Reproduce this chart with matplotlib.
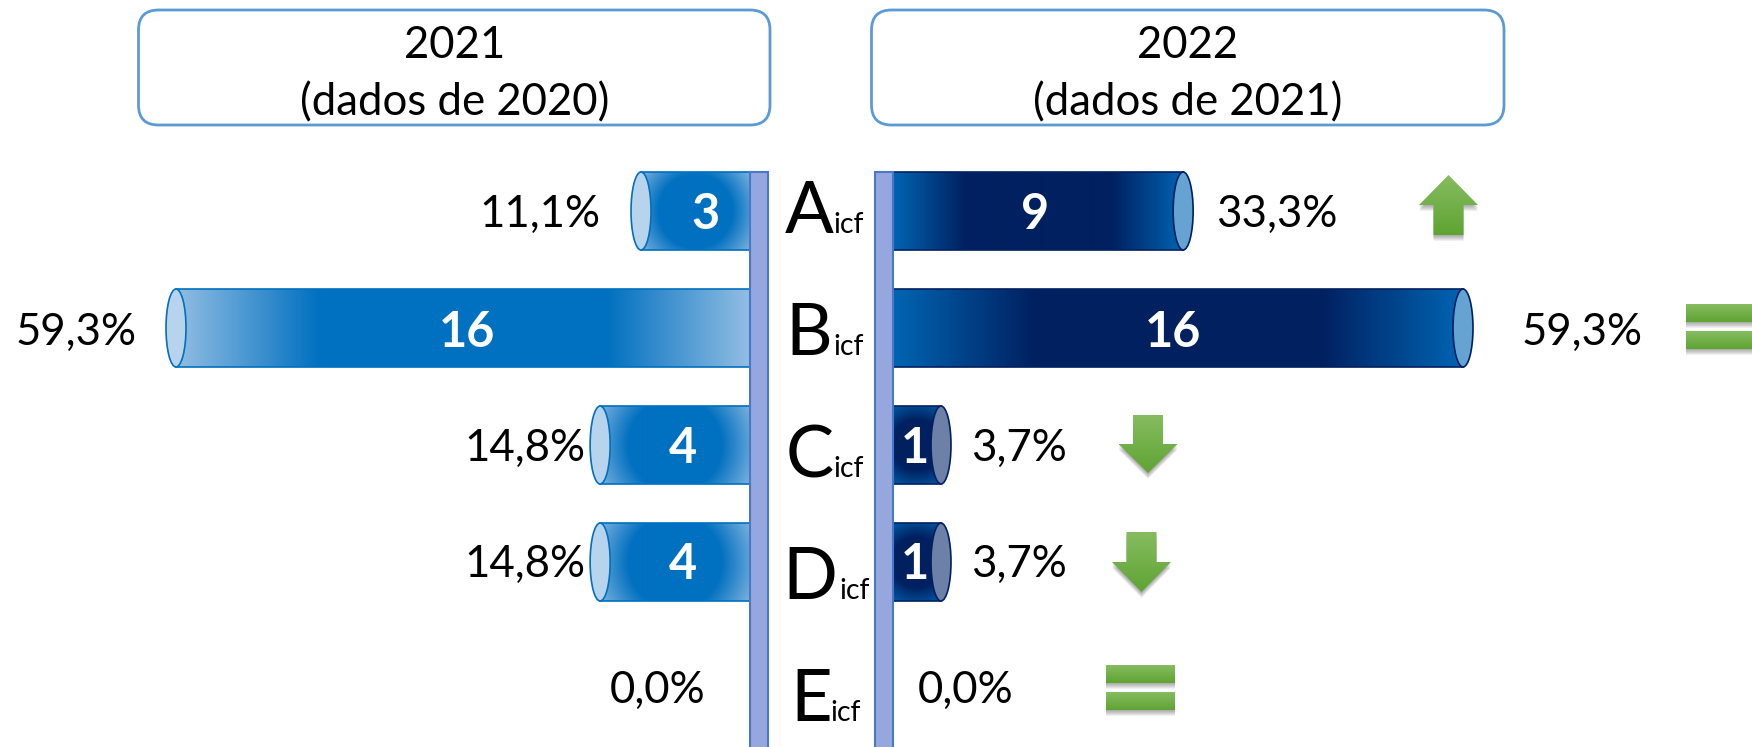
import numpy as np
import matplotlib
matplotlib.use("Agg")
import matplotlib.pyplot as plt
from matplotlib.patches import Ellipse, FancyBboxPatch, Polygon, Rectangle

# ---- data ----
categories = ["A", "B", "C", "D", "E"]
counts_2021 = [3, 16, 4, 4, 0]
counts_2022 = [9, 16, 1, 1, 0]
pct_2021 = [11.1, 59.3, 14.8, 14.8, 0.0]
pct_2022 = [33.3, 59.3, 3.7, 3.7, 0.0]
# the bars in the source are hand-drawn shapes: their drawn length, in counts
drawn_2021 = [3.26, 16.0, 4.38, 4.38, 0.0]
drawn_2022 = [8.28, 16.0, 1.6, 1.6, 0.0]
trend = ["up", "equal", "down", "down", "equal"]
headers = [("2021", "(dados de 2020)"), ("2022", "(dados de 2021)")]

# ---- layout (pixels) ----
W, H = 1752, 747
LEFT_BASE, RIGHT_BASE = 750, 893
LEFT_SCALE, RIGHT_SCALE = 36.5, 36.25
ROW0, ROW_STEP, BAR_PX, CAP_PX = 211, 117, 78, 20
pct_base = [227, 345, 461, 577, 703]
val_base = [229, 347, 463, 579]
pct_x_l = [540, 76, 525, 525, 658]
pct_x_r = [1277, 1582, 1019, 1019, 966]
val_x_l = [705, 467, 683, 683]
val_x_r = [1035, 1173, 915, 915]
letter_x = [785, 785, 786, 782, 790]
icf_x = [833, 833, 833, 839, 830]
letter_base = [233, 355, 477, 599, 721]
FONT = "Lato"
plt.rcParams["font.family"] = [FONT, "DejaVu Sans"]


def hex_rgb(c):
    return np.array(matplotlib.colors.to_rgb(c))


def gradient(lpx, hpx, kind, end, mid):
    nx, ny = max(int(lpx), 2), max(int(hpx), 2)
    u = (np.arange(nx) + .5) / nx
    v = (np.arange(ny) + .5) / ny
    uu, vv = np.meshgrid(u, v)
    if kind == "linear":
        t = np.clip(np.minimum(uu, 1 - uu) / .25, 0, 1)
    else:
        d = np.hypot((uu - .5) * lpx, (vv - .5) * hpx) / np.hypot(lpx / 2, hpx / 2)
        t = np.clip((1.08 - d) / (1.08 - .55), 0, 1)
    e, m = hex_rgb(end), hex_rgb(mid)
    return e + (m - e) * t[..., None]


fig = plt.figure(figsize=(W / 100, H / 100), dpi=100, facecolor="white")
ylim = ((H - ROW0) / ROW_STEP, -ROW0 / ROW_STEP)
ax_l = fig.add_axes([0, 0, LEFT_BASE / W, 1])
ax_l.set_xlim(LEFT_BASE / LEFT_SCALE, 0)
ax_r = fig.add_axes([RIGHT_BASE / W, 0, (W - RIGHT_BASE) / W, 1])
ax_r.set_xlim(0, (W - RIGHT_BASE) / RIGHT_SCALE)
bar_h = BAR_PX / ROW_STEP


def draw_bars(ax, drawn, scale, end, mid, edge, cap_face, short_cap):
    xlim = ax.get_xlim()
    cap_w = CAP_PX / scale
    for i, L in enumerate(drawn):
        if L <= 0:
            continue
        body = L - cap_w / 2
        kind = "linear" if body * scale > 250 else "radial"
        img = gradient(body * scale, BAR_PX, kind, end, mid)
        ax.imshow(img, extent=(0, body, i + bar_h / 2, i - bar_h / 2),
                  origin="upper", aspect="auto", zorder=1, interpolation="bilinear")
        for yy in (i - bar_h / 2, i + bar_h / 2):
            ax.plot([0, body], [yy, yy], color=edge, lw=1.2, zorder=2)
        face = short_cap if body * scale < 60 else cap_face
        ax.add_patch(Ellipse((body, i), cap_w, bar_h, facecolor=face, edgecolor=edge,
                             lw=1.2, zorder=3))
    ax.set_xlim(xlim)
    ax.set_ylim(ylim)
    ax.axis("off")


draw_bars(ax_l, drawn_2021, LEFT_SCALE, "#93BEE3", "#0070C0", "#0070C0", "#B8D4EC", "#B8D4EC")
draw_bars(ax_r, drawn_2022, RIGHT_SCALE, "#0065B3", "#002060", "#002060", "#66A3D2", "#6C80A8")

# overlay in pixel coordinates for the infographic furniture
ov = fig.add_axes([0, 0, 1, 1], zorder=5)
ov.set_xlim(0, W)
ov.set_ylim(H, 0)
ov.axis("off")
ov.patch.set_alpha(0)

for px in (LEFT_BASE, RIGHT_BASE - 18):
    ov.add_patch(Rectangle((px, 172), 18, H - 172 + 2, facecolor="#95A7DC",
                           edgecolor="#4A78C8", lw=1.5, zorder=4))

for (x0, x1), (l1, l2) in zip([(138.5, 770), (871.5, 1504)], headers):
    r = 20
    ov.add_patch(FancyBboxPatch((x0 + r, 10 + r), x1 - x0 - 2 * r, 115 - 2 * r,
                                boxstyle=f"round,pad={r},rounding_size={r}",
                                facecolor="white", edgecolor="#5B9BD5", lw=2))
    cx = (x0 + x1) / 2
    ov.text(cx, 58, l1, ha="center", va="baseline", fontsize=31.5, color="black")
    ov.text(cx, 115, l2, ha="center", va="baseline", fontsize=31.5, color="black")


def pct(v):
    return f"{v:.1f}%".replace(".", ",")


for i, cat in enumerate(categories):
    ov.text(pct_x_l[i], pct_base[i], pct(pct_2021[i]), ha="center", va="baseline",
            fontsize=31.5, color="black")
    ov.text(pct_x_r[i], pct_base[i], pct(pct_2022[i]), ha="center", va="baseline",
            fontsize=31.5, color="black")
    ov.text(letter_x[i], letter_base[i], cat, ha="left", va="baseline", fontsize=52, color="black")
    ov.text(icf_x[i], letter_base[i], "icf", ha="left", va="baseline", fontsize=20.5, color="black")
    if counts_2021[i] > 0:
        ov.text(val_x_l[i], val_base[i], str(counts_2021[i]), ha="center", va="baseline",
                fontsize=35, fontweight="bold", color="white", zorder=6)
    if counts_2022[i] > 0:
        ov.text(val_x_r[i], val_base[i], str(counts_2022[i]), ha="center", va="baseline",
                fontsize=35, fontweight="bold", color="white", zorder=6)


def green_shape(pts):
    pts = np.array(pts, float)
    for k in range(6, 0, -1):
        ov.add_patch(Polygon(pts + [0, k], closed=True, facecolor="black", alpha=.06,
                             edgecolor="none", zorder=3))
    xs, ys = pts[:, 0], pts[:, 1]
    grad = np.linspace(0, 1, 64)[:, None, None]
    img = hex_rgb("#86BC60") + (hex_rgb("#5FA433") - hex_rgb("#86BC60")) * grad
    im = ov.imshow(img, extent=(xs.min(), xs.max(), ys.max(), ys.min()), origin="upper",
                   aspect="auto", zorder=4)
    clip = Polygon(pts, closed=True, transform=ov.transData)
    im.set_clip_path(clip)


def arrow(kind, xc, y0, y1, yh):
    hw, sw = 29.5, 15
    if kind == "up":
        green_shape([(xc, y0), (xc + hw, yh), (xc + sw, yh), (xc + sw, y1),
                     (xc - sw, y1), (xc - sw, yh), (xc - hw, yh)])
    else:
        green_shape([(xc - sw, y0), (xc + sw, y0), (xc + sw, yh), (xc + hw, yh),
                     (xc, y1), (xc - hw, yh), (xc - sw, yh)])


def equal(x0, x1, y0):
    green_shape([(x0, y0), (x1, y0), (x1, y0 + 18), (x0, y0 + 18)])
    green_shape([(x0, y0 + 27), (x1, y0 + 27), (x1, y0 + 45), (x0, y0 + 45)])


arrow_geom = [(1448.5, 175, 235, 205), None, (1148, 415, 473, 444), (1141.5, 532, 592, 562), None]
equal_geom = [None, (1686, 1760, 304), None, None, (1106, 1175, 665)]
for i, tr in enumerate(trend):
    if tr == "equal":
        equal(*equal_geom[i])
    else:
        arrow(tr, *arrow_geom[i])

ov.set_xlim(0, W)
ov.set_ylim(H, 0)
fig.savefig("out.png", dpi=100, facecolor="white")
